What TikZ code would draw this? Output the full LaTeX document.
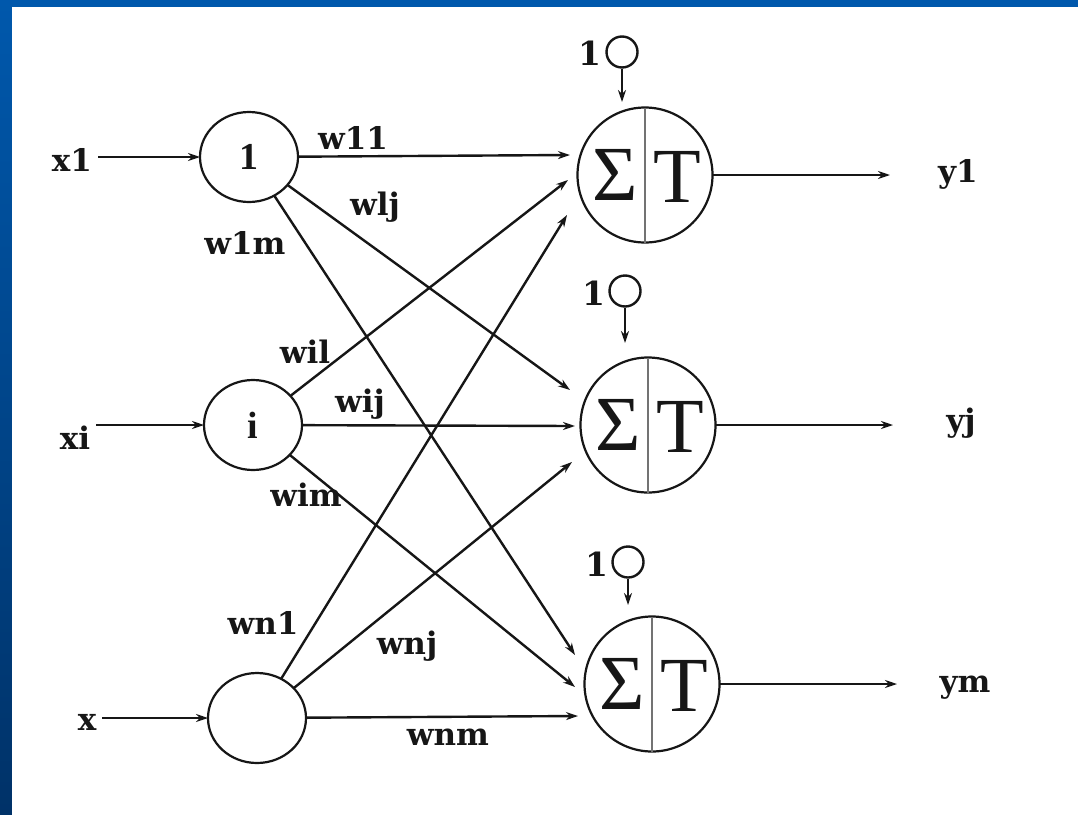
\documentclass[tikz,border=0pt]{standalone}
\usepackage{fontspec}
\setmainfont{DejaVu Serif}
\newfontfamily\lserif{Liberation Serif}
\usetikzlibrary{arrows.meta,shapes.geometric}

\definecolor{frametop}{RGB}{0,88,172}
\definecolor{framebot}{RGB}{0,50,104}
\definecolor{ink}{RGB}{22,22,22}

\begin{document}
\begin{tikzpicture}[x=1pt,y=-1pt,
  wire/.style={line width=2.4pt, draw=ink},
  arr/.style={wire, -{Stealth[length=12pt,width=8pt]}},
  inneuron/.style={ellipse, draw=ink, line width=2.2pt, minimum width=98pt,
    minimum height=90pt, inner sep=0pt, outer sep=0pt},
  outneuron/.style={circle, draw=ink, line width=2.2pt, minimum size=135pt,
    inner sep=0pt, outer sep=0pt},
  biasc/.style={circle, draw=ink, line width=2.4pt, minimum size=31pt,
    inner sep=0pt},
  divider/.style={line width=1.8pt, draw=black!55},
  lbl/.style={font=\fontsize{31}{33}\selectfont\bfseries, inner sep=0pt, text=ink},
  biaslbl/.style={font=\fontsize{33}{35}\selectfont\bfseries, inner sep=0pt, text=ink},
  idx/.style={font=\lserif\fontsize{38}{40}\selectfont\bfseries, inner sep=0pt, text=ink},
  sym/.style={font=\lserif\fontsize{78}{80}\selectfont, inner sep=0pt, text=ink}
]
\useasboundingbox (0,0) rectangle (1078,814);

% slide frame and page
\shade[top color=frametop, bottom color=framebot] (0,0) rectangle (1078,814);
\fill[white] (12,7) rectangle (1082,818);

% input layer
\node[inneuron] (n1) at (249,157) {};
\node[idx] (n1t) at (n1) {1};
\node[inneuron] (ni) at (253,425) {};
\node[idx] (nit) at (ni) {i};
\node[inneuron] (nn) at (257,718) {};

% input signals
\node[lbl] (x1) at (72,160) {x1};
\node[lbl] (xi) at (75,438) {xi};
\node[lbl] (xn) at (87,722) {x};
\draw[arr, shorten <=6pt] (x1.east |- n1) -- (n1.west);
\draw[arr, shorten <=6pt] (xi.east |- ni) -- (ni.west);
\draw[arr, shorten <=6pt] (xn.east |- nn) -- (nn.west);

% output layer: summation and transfer
\foreach \o/\px/\py in {o1/645/175, o2/648/425, o3/652/684}{
  \node[outneuron] (\o) at (\px,\py) {};
  \draw[divider] (\o.north) -- (\o.south);
  \node[sym, xshift=-30pt] (\o s) at (\o) {Σ};
  \node[sym, xshift=32pt, yshift=-2pt] (\o t) at (\o) {T};
}

% bias inputs
\node[biasc] (b1) at (622,52) {};
\node[biaslbl] (b1l) at (590,53) {1};
\coordinate (b1tip) at (622,102);
\draw[arr] (b1.south) -- (b1tip);

\node[biasc] (b2) at (625,291) {};
\node[biaslbl] (b2l) at (594,293) {1};
\coordinate (b2tip) at (625,343);
\draw[arr] (b2.south) -- (b2tip);

\node[biasc] (b3) at (628,562) {};
\node[biaslbl] (b3l) at (597,564) {1};
\coordinate (b3tip) at (628,605);
\draw[arr] (b3.south) -- (b3tip);

% arrow tips of the weighted connections
\coordinate (t11) at (570,155);
\coordinate (ti1) at (568,180);
\coordinate (tn1) at (567,215);
\coordinate (t1j) at (570,390);
\coordinate (tij) at (575,426);
\coordinate (tnj) at (572,462);
\coordinate (t1m) at (575,655);
\coordinate (tim) at (575,687);
\coordinate (tnm) at (578,716);

\draw[arr] (n1) -- (t11);
\draw[arr] (n1) -- (t1j);
\draw[arr] (n1) -- (t1m);
\draw[arr] (ni) -- (ti1);
\draw[arr] (ni) -- (tij);
\draw[arr] (ni) -- (tim);
\draw[arr] (nn) -- (tn1);
\draw[arr] (nn) -- (tnj);
\draw[arr] (nn) -- (tnm);

% weight labels
\node[lbl] (w11) at (353,138) {w11};
\node[lbl] (w1j) at (375,207) {wlj};
\node[lbl] (w1m) at (245,243) {w1m};
\node[lbl] (wi1) at (305,352) {wil};
\node[lbl] (wij) at (360,404) {wij};
\node[lbl] (wim) at (306,495) {wim};
\node[lbl] (wn1) at (263,623) {wn1};
\node[lbl] (wnj) at (407,646) {wnj};
\node[lbl] (wnm) at (448,737) {wnm};

% outputs
\coordinate (y1tip) at (890,175);
\coordinate (yjtip) at (893,425);
\coordinate (ymtip) at (897,684);
\draw[arr] (o1.east) -- (y1tip);
\draw[arr] (o2.east) -- (yjtip);
\draw[arr] (o3.east) -- (ymtip);
\node[lbl] (y1) at (958,174) {y1};
\node[lbl] (yj) at (961,423) {yj};
\node[lbl] (ym) at (965,688) {ym};
\end{tikzpicture}
\end{document}
